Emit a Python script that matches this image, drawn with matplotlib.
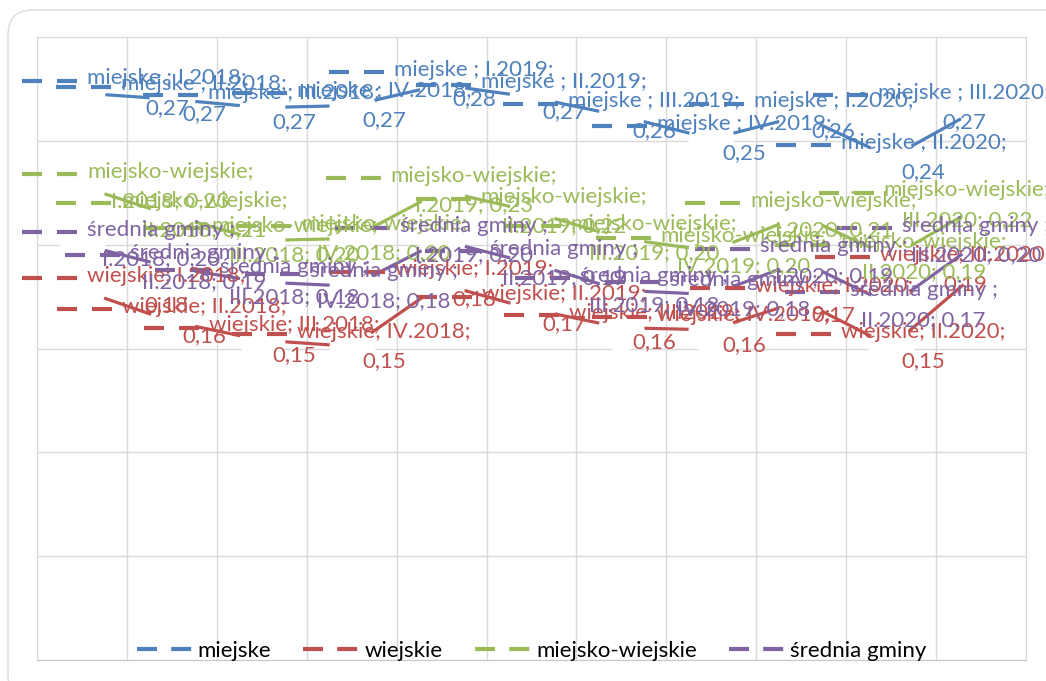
import numpy as np
import matplotlib
matplotlib.use("Agg")
import matplotlib.pyplot as plt
from matplotlib.lines import Line2D
from matplotlib.patches import FancyBboxPatch
from matplotlib.transforms import IdentityTransform

plt.rcParams['font.family'] = ['Lato', 'DejaVu Sans']

# dane
kwartaly = ['I.2018', 'II.2018', 'III.2018', 'IV.2018', 'I.2019', 'II.2019',
            'III.2019', 'IV.2019', 'I.2020', 'II.2020', 'III.2020']
miejskie = [0.273, 0.270, 0.266, 0.267, 0.277, 0.271, 0.262, 0.251, 0.262, 0.242, 0.266]
wiejskie = [0.178, 0.163, 0.154, 0.151, 0.181, 0.169, 0.160, 0.159, 0.173, 0.151, 0.188]
miejsko_wiejskie = [0.228, 0.214, 0.202, 0.203, 0.226, 0.216, 0.203, 0.197, 0.214, 0.194, 0.219]
srednia_gminy = [0.200, 0.189, 0.182, 0.180, 0.202, 0.191, 0.178, 0.176, 0.192, 0.171, 0.202]

nazwy = ['miejske', 'wiejskie', 'miejsko-wiejskie', 'średnia gminy']
wzory = ['miejske ; {k};\n{v}', 'wiejskie; {k};\n{v}',
         'miejsko-wiejskie;\n{k}; {v}', 'średnia gminy ;\n{k}; {v}']
kolory = ['#4F81BD', '#C0504D', '#9BBB59', '#8064A2']
serie = [miejskie, wiejskie, miejsko_wiejskie, srednia_gminy]

W, H = 1046, 681
fig = plt.figure(figsize=(W / 100, H / 100), dpi=100)
ax = fig.add_axes([37 / W, 21 / H, 989 / W, 623 / H])

x = np.arange(len(kwartaly))
ax.set_xlim(-0.5, len(kwartaly) - 0.5)
ax.set_ylim(0, 0.3)
ax.set_xticks(np.arange(-0.5, len(kwartaly), 1))
ax.set_yticks(np.arange(0, 0.301, 0.05))
ax.grid(True, color='#d9d9d9', lw=1)
ax.set_axisbelow(True)
ax.tick_params(length=0, labelleft=False, labelbottom=False)
for s in ax.spines.values():
    s.set_color('#d9d9d9')
ax.spines['bottom'].set_color('#c8c8c8')

# linie z duzymi bialymi markerami (jak w excelu)
for i, (vals, c) in enumerate(zip(serie, kolory)):
    ax.plot(x, vals, color=c, lw=2.3, marker='o', ms=33, mfc='white',
            mec='white', mew=0, zorder=3 + i, solid_capstyle='butt')

# ramka wykresu
ramka = FancyBboxPatch((8, -19), 1100, 690, boxstyle='round,pad=0,rounding_size=25',
                       transform=IdentityTransform(), ec='#dcdcdc', fc='none', lw=1)
fig.add_artist(ramka)

# etykiety danych
FS = 16
KEY_W, KEY_GAP = 55, 10
etykiety = []
for vals, c, wz in zip(serie, kolory, wzory):
    for i, v in enumerate(vals):
        px, py = ax.transData.transform((i, v))
        s = wz.format(k=kwartaly[i], v=f'{v:.2f}'.replace('.', ','))
        t = fig.text(px, py, s, transform=IdentityTransform(), color=c, fontsize=FS,
                     ha='center', va='center', multialignment='center',
                     linespacing=1.6, zorder=20)
        etykiety.append((t, px, py, c))

fig.canvas.draw()
r = fig.canvas.get_renderer()
for t, px, py, c in etykiety:
    bb = t.get_window_extent(r)
    w = bb.width + KEY_W + KEY_GAP
    left = px - w / 2
    left = min(max(left, 22), 1050 - w)
    t.set_position((left + KEY_W + KEY_GAP + bb.width / 2, py))
    ky = py + bb.height / 4
    for a in (0, 35):
        fig.add_artist(Line2D([left + a, left + a + 20], [ky, ky], color=c, lw=3,
                              transform=IdentityTransform(), solid_capstyle='butt',
                              zorder=19))

# legenda
uchwyty = [Line2D([], [], color=c, lw=3, ls=(0, (4.8, 3.4))) for c in kolory]
ax.legend(uchwyty, nazwy, loc='center', bbox_to_anchor=(0.5, 0.0144), ncol=4,
          frameon=False, fontsize=FS, handlelength=2.5, handletextpad=0.25,
          columnspacing=1.45)

fig.savefig('out.png', dpi=100)
